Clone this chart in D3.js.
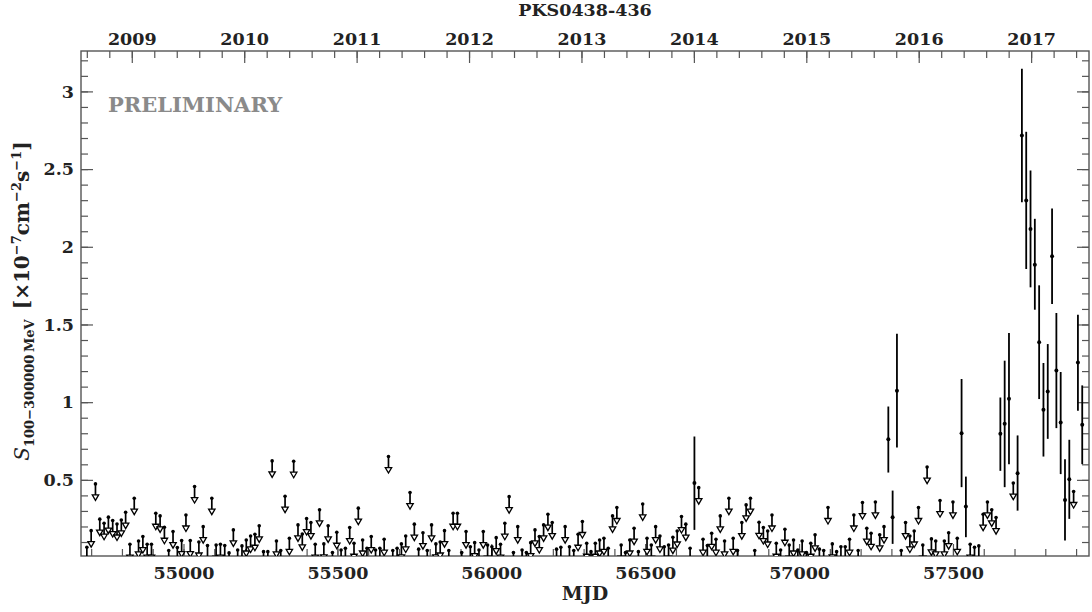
<!DOCTYPE html>
<html><head><meta charset="utf-8">
<script src="https://cdn.jsdelivr.net/npm/d3@7"></script>
<style>body{margin:0;background:#fff}</style>
</head><body>
<svg id="c" width="1092" height="612"></svg>
<script>
// ---------------- data ----------------
const chartTitle = "PKS0438-436";
const xLabel = "MJD";
const watermark = "PRELIMINARY";

// upper limits (14-day bins)
const ulMjd = [
54686,54700,54714,54728,54742,54756,54770,54784,54798,54812,
54826,54840,54854,54868,54882,54896,54910,54924,54938,54952,
54966,54980,54994,55008,55022,55036,55050,55064,55078,55092,
55106,55120,55134,55148,55162,55176,55190,55204,55218,55232,
55246,55260,55274,55288,55302,55316,55330,55344,55358,55372,
55386,55400,55414,55428,55442,55456,55470,55484,55498,55512,
55526,55540,55554,55568,55582,55596,55610,55624,55638,55652,
55666,55680,55694,55708,55722,55736,55750,55764,55778,55792,
55806,55820,55834,55848,55862,55876,55890,55904,55918,55932,
55946,55960,55974,55988,56002,56016,56030,56044,56058,56072,
56086,56100,56114,56128,56142,56156,56170,56184,56198,56212,
56226,56240,56254,56268,56282,56296,56310,56324,56338,56352,
56366,56380,56394,56408,56422,56436,56450,56464,56478,56492,
56506,56520,56534,56548,56562,56576,56590,56604,56618,56632,
56646,56674,56688,56702,56716,56730,56744,56758,56772,
56786,56800,56814,56828,56842,56856,56870,56884,56898,56912,
56926,56940,56954,56968,56982,56996,57010,57024,57038,57052,
57066,57080,57094,57108,57122,57136,57150,57164,57178,57192,
57206,57220,57234,57248,57262,57276,57332,
57346,57360,57374,57388,57402,57416,57430,57444,57458,57472,
57486,57500,57514,57556,57570,57584,57598,57612,
57626,57640,57696,57892
];
const ulFlux = [
0.066,0.173,0.474,0.247,0.221,0.260,0.238,0.216,0.242,0.292,
0.086,0.382,0.107,0.135,0.086,0.086,0.285,0.268,0.195,0.045,
0.167,0.064,0.109,0.274,0.109,0.457,0.100,0.199,0.077,0.382,
0.080,0.086,0.077,0.030,0.178,0.049,0.075,0.113,0.139,0.150,
0.204,0.038,0.038,0.622,0.107,0.045,0.395,0.124,0.620,0.210,
0.152,0.251,0.225,0.086,0.307,0.088,0.204,0.032,0.163,0.049,
0.060,0.193,0.092,0.318,0.113,0.060,0.135,0.049,0.060,0.118,
0.650,0.045,0.060,0.088,0.139,0.418,0.215,0.054,0.160,0.045,
0.210,0.088,0.100,0.173,0.045,0.285,0.285,0.032,0.167,0.070,
0.096,0.049,0.167,0.080,0.070,0.128,0.086,0.221,0.392,0.032,
0.199,0.049,0.032,0.096,0.178,0.135,0.210,0.279,0.225,0.054,
0.066,0.199,0.070,0.045,0.150,0.232,0.092,0.038,0.092,0.113,
0.124,0.060,0.268,0.322,0.080,0.032,0.113,0.189,0.038,0.345,
0.124,0.080,0.199,0.139,0.070,0.080,0.131,0.171,0.264,0.215,
0.060,0.450,0.118,0.077,0.156,0.118,0.268,0.107,0.382,
0.124,0.045,0.225,0.339,0.382,0.045,0.227,0.193,0.171,0.274,
0.092,0.049,0.182,0.080,0.113,0.049,0.107,0.032,0.092,0.146,
0.054,0.045,0.322,0.088,0.038,0.070,0.070,0.118,0.274,0.045,
0.354,0.189,0.156,0.358,0.146,0.199,0.045,
0.225,0.139,0.171,0.322,0.080,0.582,0.120,0.107,0.367,0.107,
0.160,0.358,0.124,0.086,0.066,0.075,0.279,0.358,
0.307,0.257,0.479,0.425
];

// detections with 1-sigma error bars
const detMjd  = [56660,57290,57304,57318,57528,57542,57654,57668,57682,57710,57724,57738,57752,57766,57780,57794,57808,57822,57836,57850,57864,57878,57906,57920];
const detFlux = [0.479,0.762,0.260,1.073,0.800,0.328,0.796,0.861,1.022,0.543,2.716,2.298,2.115,1.885,1.385,0.951,1.069,1.939,1.204,0.869,0.371,0.504,1.256,0.854];
const detLow  = [0.178,0.547,0.088,0.708,0.453,0.131,0.558,0.453,0.601,0.302,2.287,1.857,1.739,1.595,1.020,0.650,0.764,1.632,0.833,0.537,0.109,0.249,0.945,0.601];
const detHigh = [0.779,0.972,0.431,1.440,1.149,0.521,1.030,1.267,1.445,0.786,3.146,2.740,2.491,2.180,1.752,1.252,1.374,2.246,1.574,1.194,0.633,0.758,1.563,1.108];

const yTickValues = [0.5, 1, 1.5, 2, 2.5, 3];
const xTickValues = [55000, 55500, 56000, 56500, 57000, 57500];
const yearTicks = [2009, 2010, 2011, 2012, 2013, 2014, 2015, 2016, 2017];

// ---------------- layout ----------------
const L = 81, R = 1089, T = 51, B = 556;
const FONT = "'DejaVu Serif', serif";
const frameColor = "#555";

const svg = d3.select("#c");
const x = d3.scaleLinear().domain([54667, 57942]).range([L, R]);
const y = d3.scaleLinear().domain([0.01, 3.26]).range([B, T]);
const mjdToYear = m => 2009 + (m - 54832) / 365.25;
const xYear = d3.scaleLinear().domain([mjdToYear(54667), mjdToYear(57942)]).range([L, R]);

function styleAxis(g, showText) {
  g.select(".domain").remove();
  g.selectAll(".tick line").attr("stroke", frameColor).attr("stroke-width", 1.2);
  g.selectAll("text").style("font-family", FONT).style("font-weight", "bold")
    .style("font-size", "17.5px").attr("fill", "#222");
  if (!showText) g.selectAll("text").remove();
}

// minor ticks
const yMinor = d3.range(0.1, 3.25, 0.1).map(v => +v.toFixed(1));
const xMinor = d3.range(54700, 57942, 100);
const yearMinor = d3.range(2008.6, mjdToYear(57942), 0.2).map(v => +v.toFixed(1));

svg.append("g").attr("transform", `translate(${L},0)`)
  .call(d3.axisLeft(y).tickValues(yMinor).tickSize(-7).tickFormat(""))
  .call(g => styleAxis(g, false));
svg.append("g").attr("transform", `translate(${R},0)`)
  .call(d3.axisRight(y).tickValues(yMinor).tickSize(-7).tickFormat(""))
  .call(g => styleAxis(g, false));
svg.append("g").attr("transform", `translate(${L},0)`)
  .call(d3.axisLeft(y).tickValues(yTickValues).tickSize(-12).tickPadding(7).tickFormat(d3.format("")))
  .call(g => styleAxis(g, true));
svg.append("g").attr("transform", `translate(${R},0)`)
  .call(d3.axisRight(y).tickValues(yTickValues).tickSize(-12).tickFormat(""))
  .call(g => styleAxis(g, false));

svg.append("g").attr("transform", `translate(0,${B})`)
  .call(d3.axisBottom(x).tickValues(xMinor).tickSize(-7).tickFormat(""))
  .call(g => styleAxis(g, false));
svg.append("g").attr("transform", `translate(0,${B})`)
  .call(d3.axisBottom(x).tickValues(xTickValues).tickSize(-12).tickPadding(11).tickFormat(d3.format("d")))
  .call(g => styleAxis(g, true));

svg.append("g").attr("transform", `translate(0,${T})`)
  .call(d3.axisTop(xYear).tickValues(yearMinor).tickSize(-7).tickFormat(""))
  .call(g => styleAxis(g, false));
svg.append("g").attr("transform", `translate(0,${T})`)
  .call(d3.axisTop(xYear).tickValues(yearTicks).tickSize(-12).tickPadding(6).tickFormat(d3.format("d")))
  .call(g => styleAxis(g, true));

// frame
svg.append("rect").attr("x", L).attr("y", T).attr("width", R - L).attr("height", B - T)
  .attr("fill", "none").attr("stroke", frameColor).attr("stroke-width", 1.4);

// clip
svg.append("clipPath").attr("id", "plotclip").append("rect")
  .attr("x", L).attr("y", T).attr("width", R - L).attr("height", B - T);
const plot = svg.append("g").attr("clip-path", "url(#plotclip)");

// watermark
svg.append("text").attr("x", 108).attr("y", 111.5)
  .style("font-family", FONT).style("font-weight", "bold").style("font-size", "21px")
  .attr("fill", "#8a8a8a").text(watermark);

// upper limits
const ulData = ulMjd.map((m, i) => ({ m, v: ulFlux[i] }));
const arrowLen = 16.5, triH = 5.5, triW = 3.2;
const ul = plot.append("g").selectAll("g").data(ulData).join("g")
  .attr("transform", d => `translate(${x(d.m)},${y(d.v)})`);
ul.append("line").attr("x1", 0).attr("x2", 0).attr("y1", 0).attr("y2", arrowLen - triH)
  .attr("stroke", "#000").attr("stroke-width", 1.7);
ul.append("path")
  .attr("d", `M${-triW},${arrowLen - triH} L${triW},${arrowLen - triH} L0,${arrowLen} Z`)
  .attr("fill", "#fff").attr("stroke", "#000").attr("stroke-width", 1.3);
ul.append("circle").attr("r", 1.8).attr("fill", "#000");

// detections
const detData = detMjd.map((m, i) => ({ m, v: detFlux[i], lo: detLow[i], hi: detHigh[i] }));
const det = plot.append("g").selectAll("g").data(detData).join("g");
det.append("line").attr("x1", d => x(d.m)).attr("x2", d => x(d.m))
  .attr("y1", d => y(d.lo)).attr("y2", d => y(d.hi))
  .attr("stroke", "#000").attr("stroke-width", 1.8);
det.append("circle").attr("cx", d => x(d.m)).attr("cy", d => y(d.v)).attr("r", 2).attr("fill", "#000");

// title
svg.append("text").attr("x", (L + R) / 2).attr("y", 16).attr("text-anchor", "middle")
  .style("font-family", FONT).style("font-weight", "bold").style("font-size", "17.5px")
  .attr("fill", "#222").text(chartTitle);

// x label
svg.append("text").attr("x", (L + R) / 2).attr("y", 600).attr("text-anchor", "middle")
  .style("font-family", FONT).style("font-weight", "bold").style("font-size", "19px")
  .attr("fill", "#222").text(xLabel);

// y label
const yl = svg.append("text").attr("transform", "translate(29,301) rotate(-90)")
  .attr("text-anchor", "middle")
  .style("font-family", FONT).style("font-weight", "bold").style("font-size", "20px")
  .attr("fill", "#222");
yl.append("tspan").style("font-style", "italic").style("font-weight", "normal").text("S");
yl.append("tspan").attr("dy", 5).style("font-size", "13px").text("100−300000\u2009MeV");
yl.append("tspan").attr("dy", -5).text("\u2002[×10");
yl.append("tspan").attr("dy", -8).style("font-size", "13px").text("−7");
yl.append("tspan").attr("dy", 8).text("cm");
yl.append("tspan").attr("dy", -8).style("font-size", "13px").text("−2");
yl.append("tspan").attr("dy", 8).text("s");
yl.append("tspan").attr("dy", -8).style("font-size", "13px").text("−1");
yl.append("tspan").attr("dy", 8).text("]");
</script>
</body></html>
